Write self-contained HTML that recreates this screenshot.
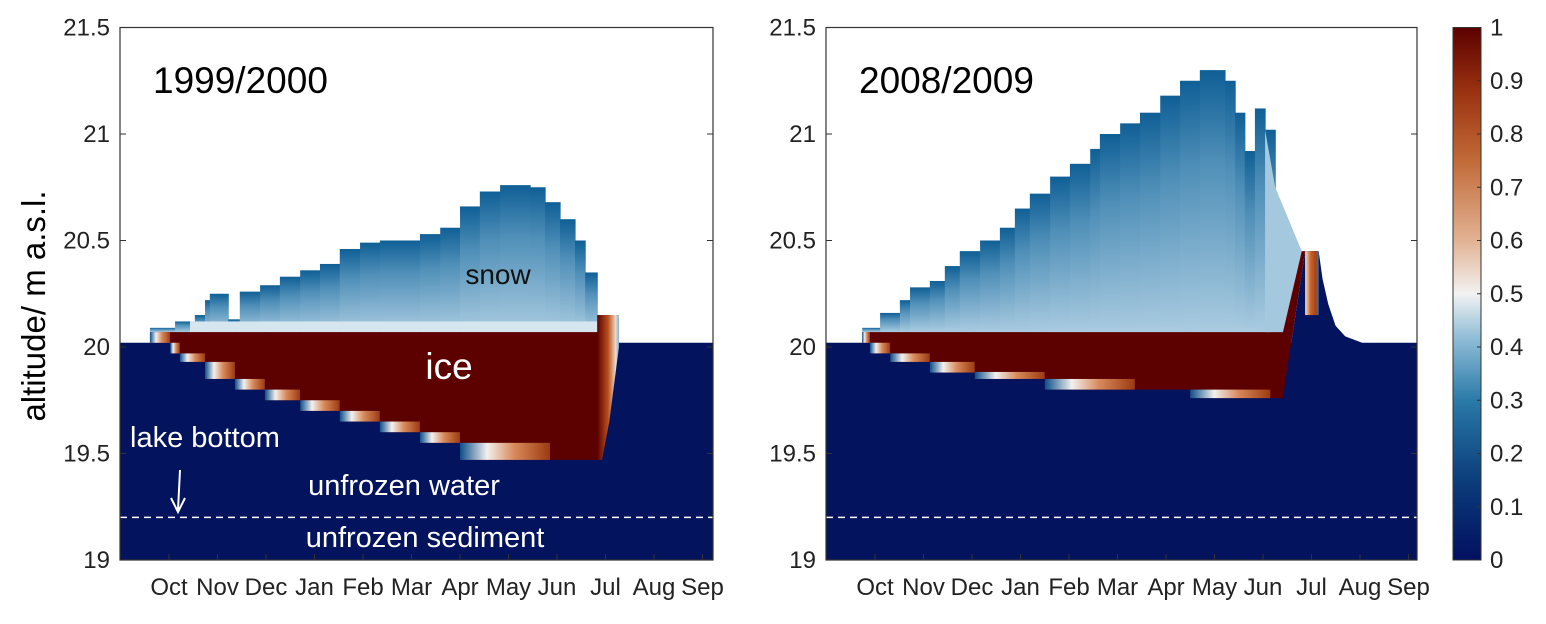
<!DOCTYPE html>
<html><head><meta charset="utf-8"><style>
body{margin:0;background:#fff}
svg text{font-family:"Liberation Sans",Arial,sans-serif;fill:#222}
</style></head><body>
<svg id="chart" width="1546" height="619" viewBox="0 0 1546 619" xmlns="http://www.w3.org/2000/svg">
<defs>
<linearGradient id="snowGrad" x1="0" y1="0" x2="0" y2="1">
<stop offset="0" stop-color="#0f5f96"/><stop offset="0.35" stop-color="#4f8fb8"/><stop offset="1" stop-color="#a9cbe0"/></linearGradient>
<linearGradient id="bandGrad" x1="0" y1="0" x2="1" y2="0">
<stop offset="0" stop-color="#0d4f8a"/><stop offset="0.3" stop-color="#f2f0ee"/><stop offset="0.6" stop-color="#d88a5c"/><stop offset="1" stop-color="#9c3a10"/></linearGradient>
<linearGradient id="meltGrad" x1="0" y1="0" x2="1" y2="0">
<stop offset="0" stop-color="#5c0000"/><stop offset="0.5" stop-color="#b8501c"/><stop offset="0.85" stop-color="#f0d8c8"/><stop offset="1" stop-color="#7fb0d0"/></linearGradient>
<linearGradient id="colGrad" x1="0" y1="0" x2="1" y2="0">
<stop offset="0" stop-color="#f0e0d4"/><stop offset="0.4" stop-color="#c8642c"/><stop offset="0.8" stop-color="#a8421a"/><stop offset="1" stop-color="#3a78aa"/></linearGradient>
<linearGradient id="cbGrad" x1="0" y1="1" x2="0" y2="0">
<stop offset="0" stop-color="#021060"/><stop offset="0.15" stop-color="#0b3d7c"/><stop offset="0.3" stop-color="#2a7aa8"/><stop offset="0.42" stop-color="#93bfd8"/><stop offset="0.5" stop-color="#f2f2f2"/><stop offset="0.6" stop-color="#e2b293"/><stop offset="0.75" stop-color="#c26a38"/><stop offset="0.88" stop-color="#9a3210"/><stop offset="1" stop-color="#5c0000"/></linearGradient>
</defs>
<g id="layer"></g>
</svg>
<script>
const months=["Oct","Nov","Dec","Jan","Feb","Mar","Apr","May","Jun","Jul","Aug","Sep"];
const yTicks=[19,19.5,20,20.5,21,21.5];
const cbTicks=[0,0.1,0.2,0.3,0.4,0.5,0.6,0.7,0.8,0.9,1];
// panel 1 (1999/2000)
const snowT1=[0.62,1.14,1.55,1.76,1.86,2.24,2.48,2.9,3.31,3.73,4.14,4.55,4.97,5.38,5.8,6.21,6.63,7.04,7.45,7.87,8.49,8.8,9.11,9.42,9.63,9.88];
const snowTop1=[20.09,20.12,20.15,20.22,20.25,20.13,20.26,20.29,20.33,20.36,20.39,20.46,20.49,20.5,20.5,20.53,20.56,20.66,20.73,20.76,20.75,20.68,20.6,20.5,20.35,20.1];
const iceT1=[0.62,1.04,1.24,1.76,2.38,3.0,3.73,4.55,5.38,6.21,7.04,9.88];
const iceBot1=[20.02,19.97,19.93,19.85,19.8,19.75,19.7,19.65,19.6,19.55,19.47,19.47];
// panel 2 (2008/2009)
const snowT2=[0.75,1.12,1.53,1.74,2.15,2.46,2.77,3.19,3.6,3.91,4.22,4.64,5.05,5.47,5.67,6.09,6.5,6.92,7.33,7.74,8.05,8.26,8.47,8.67,8.88,9.09];
const snowTop2=[20.09,20.16,20.22,20.28,20.31,20.38,20.45,20.5,20.56,20.65,20.72,20.8,20.86,20.93,21.0,21.05,21.1,21.18,21.25,21.3,21.3,21.25,21.1,20.92,21.12,21.02];
const iceT2=[0.75,0.91,1.33,2.15,3.08,4.53,7.54,9.2];
const iceBot2=[20.02,19.97,19.93,19.88,19.85,19.8,19.76,19.76];
const iceTop=20.07, waterLevel=20.02, lakeBottom=19.2;

const NS="http://www.w3.org/2000/svg";
const g=document.getElementById('layer');
const Y0=560, PXU=213;
function y(v){return Y0-(v-19)*PXU;}
function mk(tag,at,parent){const e=document.createElementNS(NS,tag);for(const k in at)e.setAttribute(k,at[k]);(parent||g).appendChild(e);return e;}
const panels=[{x0:120,w:593,snowT:snowT1,snowTop:snowTop1,iceT:iceT1,iceBot:iceBot1,title:"1999/2000",id:1},
{x0:826,w:591,snowT:snowT2,snowTop:snowTop2,iceT:iceT2,iceBot:iceBot2,title:"2008/2009",id:2}];
const MPX=48.3;
function poly(pg,x,pts,fill,name){
  const e=mk('polygon',{points:pts.map(q=>x(q[0])+','+y(q[1])).join(' '),fill:fill},pg);
  
  
  return e;
}
panels.forEach(p=>{
  const x=t=>p.x0+t*MPX;
  const pg=mk('g',{});
  
  
  const water=mk('rect',{x:p.x0,y:y(waterLevel),width:p.w,height:y(19)-y(waterLevel),fill:'#03135e'},pg);
  
  
  // snow
  const sEnd=p.id===1?p.snowT.length-1:p.snowT.length;
  for(let i=0;i<sEnd;i++){
    const t1=i+1<p.snowT.length?p.snowT[i+1]:p.snowT[i]+0.21;
    const r=mk('rect',{x:x(p.snowT[i]),y:y(p.snowTop[i]),width:x(t1)-x(p.snowT[i])+0.6,height:y(iceTop)-y(p.snowTop[i]),fill:'url(#snowGrad)'},pg);
    
    
  }
  if(p.id===1){
    const b=mk('rect',{x:x(1.45),y:y(20.12),width:x(9.88)-x(1.45),height:y(iceTop)-y(20.12),fill:'#d6e6ef'},pg);
    
    
  }
  // ice
  const last=p.iceT.length-1;
  for(let i=0;i<last;i++){
    const r=mk('rect',{x:x(p.iceT[i]),y:y(iceTop),width:x(p.iceT[i+1])-x(p.iceT[i])+0.6,height:y(p.iceBot[i])-y(iceTop),fill:'#5c0000'},pg);
    
    
    const bw=Math.min(x(p.iceT[i+1])-x(p.iceT[i]), 90);
    const bh=Math.max(y(p.iceBot[i])-y(i>0?p.iceBot[i-1]:iceTop),7);
    const band=mk('rect',{x:x(p.iceT[i]),y:y(p.iceBot[i])-bh,width:bw,height:bh,fill:'url(#bandGrad)'},pg);
    
    
  }
  // melt
  const te=p.iceT[last];
  if(p.id===1){
    poly(pg,x,[[te,20.15],[te+0.45,20.15],[te+0.45,20.0],[te+0.25,19.65],[te+0.1,19.47],[te,19.47]],'url(#meltGrad)','melting-ice');
  }else{
    poly(pg,x,[[te-0.11,iceTop],[te-0.11,21.02],[te+0.1,20.75],[te+0.65,20.45],[te+0.26,iceTop]],'#a4c8de','snow-melt-edge');
    poly(pg,x,[[te,iceTop],[te,p.iceBot[last]],[te+0.26,p.iceBot[last]],[te+0.72,20.45],[te+0.65,20.45],[te+0.26,iceTop]],'#5c0000','melting-ice');
    poly(pg,x,[[te+0.26,p.iceBot[last]],[te+0.72,20.45],[te+1.0,20.45],[te+1.08,20.32],[te+1.2,20.2],[te+1.35,20.1],[te+1.55,20.05],[te+1.9,waterLevel],[te+1.9,p.iceBot[last]]],'#03135e','meltwater-peak');
    const c=mk('rect',{x:x(te+0.72),y:y(20.45),width:x(te+1.0)-x(te+0.72),height:y(20.15)-y(20.45),fill:'url(#colGrad)'},pg);
    
    
  }
  // lake bottom line
  const lb=mk('line',{x1:p.x0,x2:p.x0+p.w,y1:y(lakeBottom),y2:y(lakeBottom),stroke:'#fff','stroke-width':1.5,'stroke-dasharray':'7,5'},pg);
  
  
  // frame
  const fr=mk('rect',{x:p.x0,y:y(21.5),width:p.w,height:y(19)-y(21.5),fill:'none',stroke:'#333','stroke-width':1.2},pg);
  
  
  yTicks.forEach(v=>{
    const t=mk('text',{x:p.x0-10,y:y(v)+8,'font-size':24,'text-anchor':'end'},pg);t.textContent=v;
    
    
    const tl=mk('line',{x1:p.x0,x2:p.x0+6,y1:y(v),y2:y(v),stroke:'#333'},pg);
    
    
    const tr=mk('line',{x1:p.x0+p.w-6,x2:p.x0+p.w,y1:y(v),y2:y(v),stroke:'#333'},pg);
    
    
  });
  months.forEach((mo,i)=>{
    const cxl=p.x0+49+i*48.5;
    const t=mk('text',{x:cxl,y:595,'font-size':24,'text-anchor':'middle'},pg);t.textContent=mo;
    
    
    const tk=mk('line',{x1:cxl,x2:cxl,y1:y(19),y2:y(19)-6,stroke:'#333'},pg);
    
    
  });
  const tt=mk('text',{x:p.x0+33,y:93,'font-size':37},pg);tt.textContent=p.title;
  tt.style.fill='#000';
  
  
});
function lab(txt,xx,yy,fs,col,anchor,name){const t=mk('text',{x:xx,y:yy,'font-size':fs,'text-anchor':anchor||'start'});t.textContent=txt;t.style.fill=col;

}
lab('snow',498,284,28,'#111','middle','snow-label');
lab('ice',449,379,37,'#fff','middle','ice-label');
lab('lake bottom',130,447,29,'#fff','start','lake-bottom-label');
lab('unfrozen water',404,495,29,'#fff','middle','unfrozen-water-label');
lab('unfrozen sediment',425,547,29,'#fff','middle','unfrozen-sediment-label');
const ar=mk('path',{d:'M180,470 L178,510 M171,498 L178,512 L185,498',stroke:'#fff','stroke-width':2,fill:'none'});


const yt=mk('text',{x:0,y:0,'font-size':33,'text-anchor':'middle',transform:'translate(45,306) rotate(-90)'});yt.textContent='altitude/ m a.s.l.';
yt.style.fill='#000';


// colorbar
const cbx=1453,cbw=28,cbTop=y(21.5),cbBot=y(19);
const cb=mk('rect',{x:cbx,y:cbTop,width:cbw,height:cbBot-cbTop,fill:'url(#cbGrad)',stroke:'#333','stroke-width':1});


cbTicks.forEach(v=>{const yy=cbBot-v*(cbBot-cbTop);
  const t=mk('text',{x:cbx+cbw+9,y:yy+8,'font-size':24});t.textContent=v;
  
  
  const l=mk('line',{x1:cbx+cbw-4,x2:cbx+cbw,y1:yy,y2:yy,stroke:'#333'});
  
  
});
</script>
</body></html>
